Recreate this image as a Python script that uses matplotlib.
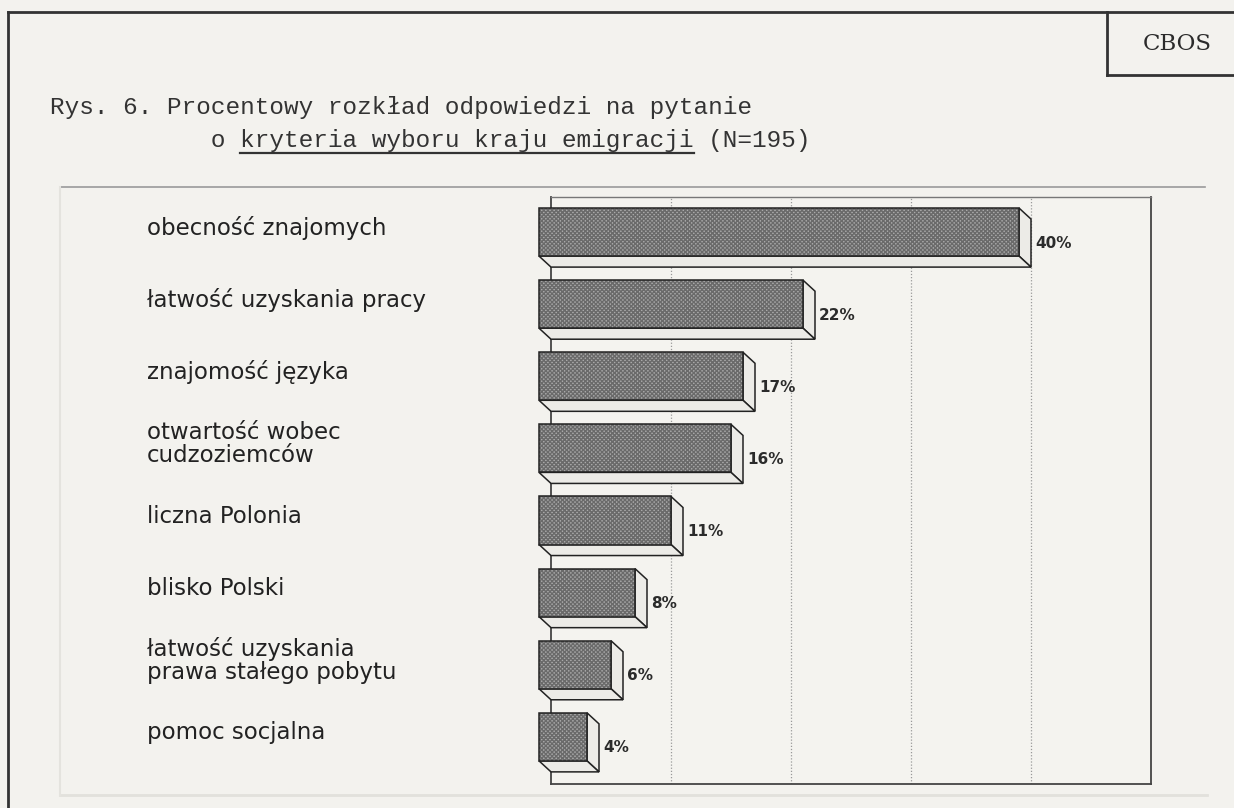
import matplotlib
matplotlib.use("Agg")
import matplotlib.pyplot as plt
from matplotlib.patches import Polygon
from matplotlib.lines import Line2D

# data (percent of answers, N=195)
categories = [
    "obecność znajomych",
    "łatwość uzyskania pracy",
    "znajomość języka",
    "otwartość wobec\ncudzoziemców",
    "liczna Polonia",
    "blisko Polski",
    "łatwość uzyskania\nprawa stałego pobytu",
    "pomoc socjalna",
]
values = [40, 22, 17, 16, 11, 8, 6, 4]
value_labels = ["40%", "22%", "17%", "16%", "11%", "8%", "6%", "4%"]
gridlines = [10, 20, 30, 40]

title_line1 = "Rys. 6. Procentowy rozkład odpowiedzi na pytanie"
title_line2 = "           o kryteria wyboru kraju emigracji (N=195)"
underlined = "kryteria wyboru kraju emigracji"

W, H = 1234, 808
paper = "#f3f2ee"
ink = "#2b2b2b"


def fx(px):
    return px / W


def fy(py):
    return 1 - py / H


fig = plt.figure(figsize=(W / 100, H / 100), dpi=100, facecolor=paper)

# outer frame and CBOS box
deco = dict(transform=fig.transFigure, color="#333333", lw=2)
fig.add_artist(Line2D([fx(8), fx(1234)], [fy(12), fy(12)], **deco))
fig.add_artist(Line2D([fx(8), fx(8)], [fy(12), fy(808)], **deco))
fig.add_artist(Line2D([fx(1107), fx(1107)], [fy(12), fy(75)], **deco))
fig.add_artist(Line2D([fx(1107), fx(1234)], [fy(75), fy(75)], **deco))
fig.text(fx(1177), fy(44), "CBOS", family="DejaVu Serif", fontsize=16.5,
         color=ink, ha="center", va="center")

# title (typewriter style)
t1 = fig.text(fx(50), fy(114), title_line1, family="Liberation Mono",
              fontsize=17.6, color="#333333", ha="left", va="baseline")
t2 = fig.text(fx(50), fy(147), title_line2, family="Liberation Mono",
              fontsize=17.6, color="#333333", ha="left", va="baseline")

# underline part of the second line
fig.canvas.draw()
bb = t2.get_window_extent()
cw = bb.width / len(title_line2)
i0 = title_line2.index(underlined)
i1 = i0 + len(underlined)
fig.add_artist(Line2D([(bb.x0 + i0 * cw) / W, (bb.x0 + i1 * cw) / W],
                      [fy(153), fy(153)], transform=fig.transFigure,
                      color="#333333", lw=1.6))

# panel around the chart
fig.add_artist(Line2D([fx(60), fx(1205)], [fy(187), fy(187)],
                      transform=fig.transFigure, color="#9a9a9a", lw=1.2))
fig.add_artist(Line2D([fx(60), fx(1207)], [fy(795), fy(795)],
                      transform=fig.transFigure, color="#e2e1dc", lw=2))
fig.add_artist(Line2D([fx(60), fx(60)], [fy(187), fy(795)],
                      transform=fig.transFigure, color="#e4e3de", lw=1.5))

# plot wall: 0..50 % maps to x 551..1151 px, top 197, bottom 784
ax = fig.add_axes([fx(551), fy(784), fx(1151) - fx(551), (784 - 197) / H])
ax.set_facecolor("#f4f3ef")
ax.set_xlim(0, 50)
ax.set_ylim(8.14, 0)
ax.set_xticks([])
ax.set_yticks([])
for s in ax.spines.values():
    s.set_color("#444444")
    s.set_linewidth(1.3)
ax.spines["top"].set_color("#777777")
ax.spines["top"].set_linewidth(1.0)

for g in gridlines:
    ax.axvline(g, color="#9a9a9a", lw=0.9, ls=(0, (1, 1.5)), zorder=1)

y0 = 0.153       # first bar top
bh = 0.666       # bar face height
dx = 1.0         # depth in percent
dy = 0.153       # depth in category units

for i, (v, lab) in enumerate(zip(values, value_labels)):
    t = y0 + i
    b = t + bh
    right = [(v - dx, t), (v, t + dy), (v, b + dy), (v - dx, b)]
    bottom = [(-dx, b), (v - dx, b), (v, b + dy), (0, b + dy)]
    front = [(-dx, t), (v - dx, t), (v - dx, b), (-dx, b)]
    for pts in (right, bottom):
        ax.add_patch(Polygon(pts, closed=True, facecolor="#ecebe7",
                             edgecolor="#222222", lw=1.1, zorder=3,
                             clip_on=False))
    ax.add_patch(Polygon(front, closed=True, facecolor="#a9a9a9",
                         edgecolor="#6a6a6a", hatch="xxxxxxxx", lw=0,
                         zorder=4, clip_on=False))
    ax.add_patch(Polygon(front, closed=True, fill=False,
                         edgecolor="#222222", lw=1.1, zorder=5,
                         clip_on=False))
    ax.text(v + 0.35, t + dy + bh / 2, lab, fontsize=11, fontweight="bold",
            color=ink, ha="left", va="center", zorder=6)

# category labels on the left
for i, c in enumerate(categories):
    yc = y0 + i + bh / 2 - 0.06
    ax.text(-33.67, yc, c, fontsize=16.5, color="#222222", ha="left",
            va="center", linespacing=1.0, clip_on=False)

fig.savefig("out.png", dpi=100, facecolor=paper)
